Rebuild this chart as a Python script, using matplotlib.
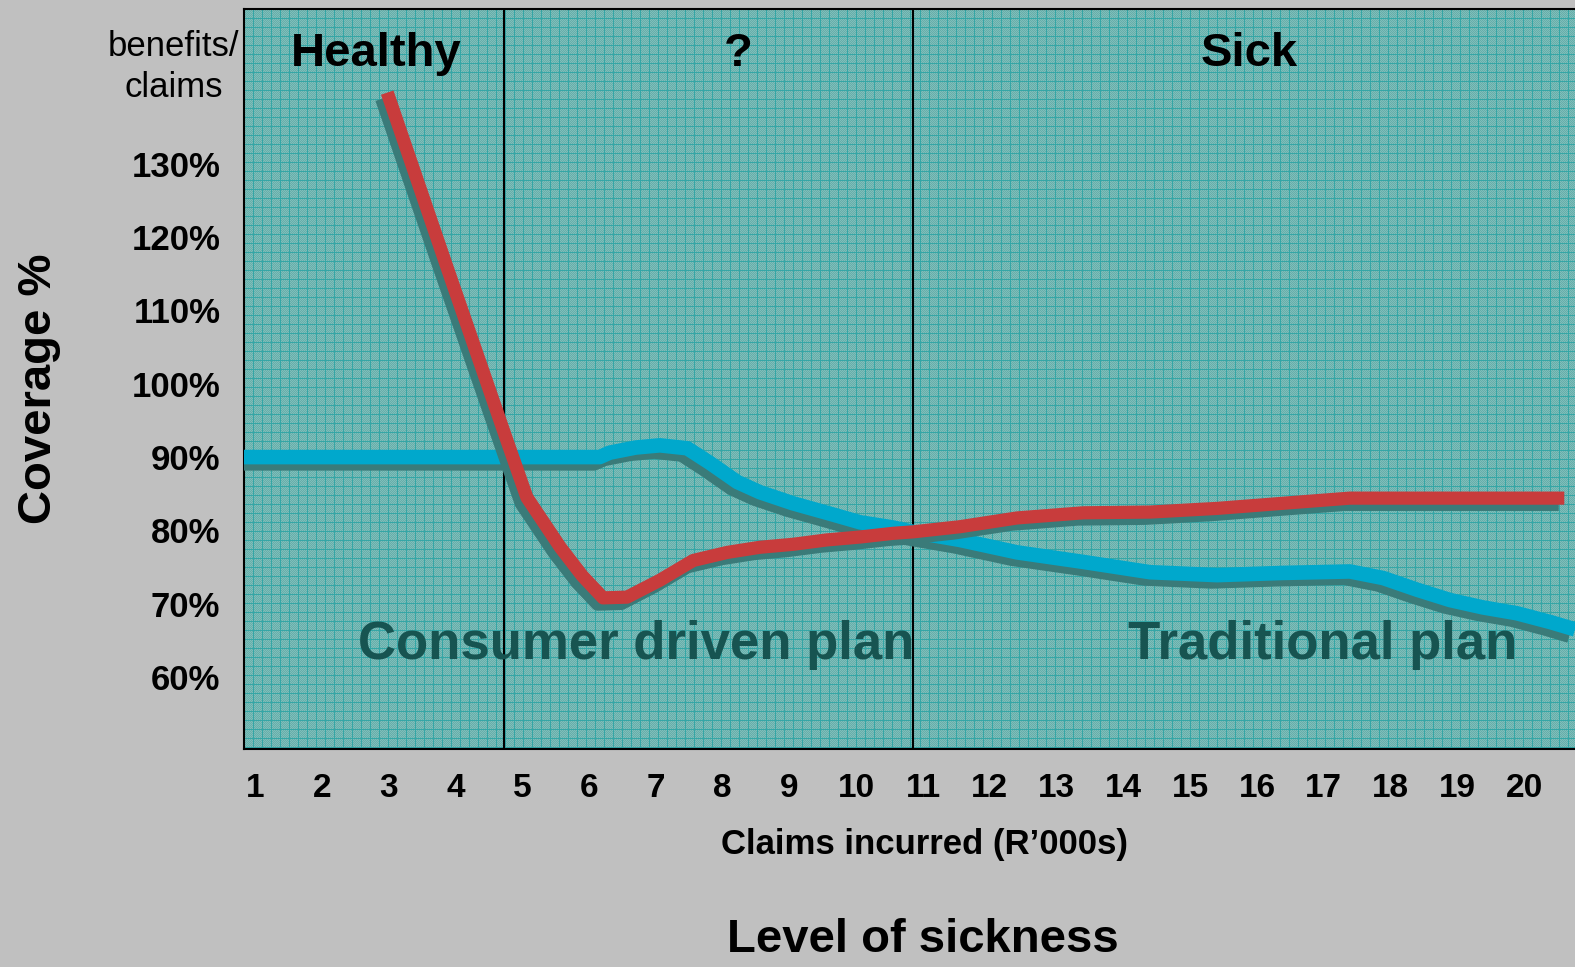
import numpy as np
import matplotlib.pyplot as plt
import matplotlib.patheffects as pe

plt.rcParams['font.family'] = ['Liberation Sans', 'DejaVu Sans']

# claims incurred (R'000s) and coverage (%)
trad_x = [0.835, 3.0, 6.16, 6.31, 6.7, 7.06, 7.47, 7.81, 8.22, 8.56, 9.05, 9.56, 10.06, 10.55, 10.85,
          11.55, 12.41, 13.40, 14.40, 15.40, 16.39, 17.39, 17.89, 18.40, 18.89, 19.38, 19.89, 20.39, 20.76]
trad_y = [90.0, 90.0, 90.0, 90.6, 91.3, 91.6, 91.2, 89.2, 86.6, 85.2, 83.7, 82.4, 81.1, 80.4, 79.8,
          78.7, 77.0, 75.7, 74.3, 73.9, 74.2, 74.4, 73.5, 71.9, 70.5, 69.5, 68.7, 67.5, 66.5]

cons_x = [2.98, 3.87, 4.77, 5.07, 5.57, 5.9, 6.21, 6.57, 7.06, 7.56, 8.07, 8.56, 9.05, 9.56, 10.06,
          10.55, 10.85, 11.55, 12.41, 13.40, 14.40, 15.40, 16.39, 17.39, 18.89, 20.6]
cons_y = [139.7, 116.0, 92.3, 84.5, 77.7, 73.8, 70.8, 70.9, 73.2, 75.9, 77.0, 77.7, 78.1, 78.7, 79.1,
          79.6, 79.8, 80.5, 81.7, 82.4, 82.5, 83.0, 83.7, 84.4, 84.4, 84.4]

x_ticks = list(range(1, 21))
y_ticks = [60, 70, 80, 90, 100, 110, 120, 130]
zone_bounds = [4.73, 10.85]
zone_names = ['Healthy', '?', 'Sick']
zone_centers = [2.81, 8.23, 15.88]

fig = plt.figure(figsize=(15.75, 9.67), dpi=100, facecolor='#C0C0C0')
ax = fig.add_axes([0.1549, 0.2255, 0.8451, 0.7652])
ax.set_xlim(0.835, 20.76)
ax.set_ylim(50.2, 151.1)

# textured teal background (dither + fine grid)
h, w = 740, 1331
tex = np.zeros((h, w, 3))
yy, xx = np.mgrid[0:h, 0:w]
tex[:] = np.array([0x7E, 0xBE, 0xBA]) / 255
tex[((xx + yy) % 2) == 0] = np.array([0x66, 0xAE, 0xAA]) / 255
tex[(xx % 9 == 0) | (yy % 9 == 0)] = np.array([0x34, 0xA6, 0xA6]) / 255
ax.imshow(tex, extent=[0, 1, 0, 1], transform=ax.transAxes, aspect='auto',
          interpolation='nearest', zorder=0)

for b in zone_bounds:
    ax.axvline(b, color='black', lw=1.5, zorder=2)

shadow = [pe.SimpleLineShadow(offset=(-4, -4.5), shadow_color='#3A7B79', alpha=1), pe.Normal()]
ax.plot(trad_x, trad_y, color='#00A8CC', lw=10.5, solid_capstyle='butt', solid_joinstyle='round',
        zorder=3, path_effects=shadow)
ax.plot(cons_x, cons_y, color='#C83C3C', lw=9.5, solid_capstyle='butt', solid_joinstyle='round',
        zorder=4, path_effects=shadow)

for name, cx in zip(zone_names, zone_centers):
    ax.text(cx, 145.0, name, ha='center', va='center', fontsize=34, fontweight='bold', zorder=5)

ax.text(2.54, 64.35, 'Consumer driven plan', ha='left', va='center', fontsize=38,
        fontweight='bold', color='#175451', zorder=5)
ax.text(14.07, 64.35, 'Traditional plan', ha='left', va='center', fontsize=38,
        fontweight='bold', color='#175451', zorder=5)

ax.set_xticks(x_ticks)
ax.set_xticklabels([str(v) for v in x_ticks], fontsize=24, fontweight='bold')
ax.set_yticks(y_ticks)
ax.set_yticklabels([f'{v}%' for v in y_ticks], fontsize=25, fontweight='bold')
ax.tick_params(length=0, pad=17)

for s in ['left', 'bottom', 'top']:
    ax.spines[s].set_linewidth(1.5)
ax.spines['right'].set_visible(False)

fig.text(0.110, 0.931, 'benefits/\nclaims', ha='center', va='center', fontsize=25,
         linespacing=1.3)
fig.text(0.587, 0.127, 'Claims incurred (R\u2019000s)', ha='center', va='center',
         fontsize=25, fontweight='bold')
fig.text(0.586, 0.028, 'Level of sickness', ha='center', va='center',
         fontsize=34, fontweight='bold')
fig.text(0.025, 0.598, 'Coverage %', ha='center', va='center', rotation=90,
         fontsize=34, fontweight='bold')

fig.savefig('out.png', dpi=100, facecolor=fig.get_facecolor())
